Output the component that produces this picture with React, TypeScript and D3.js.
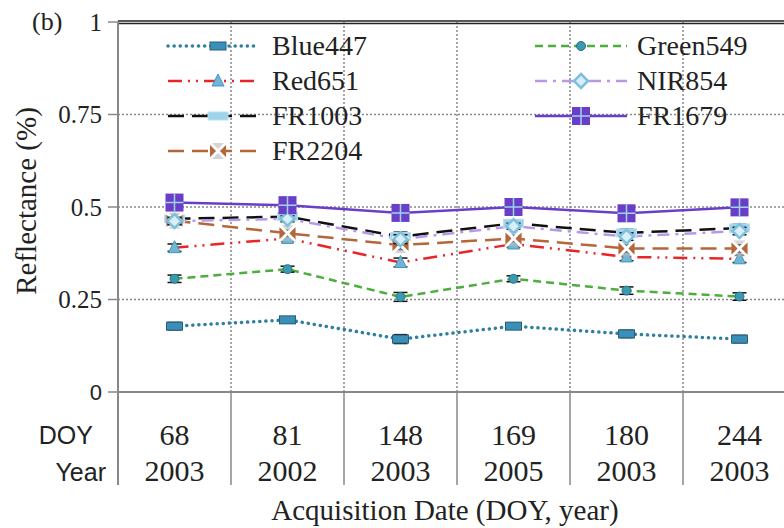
import React from "react";
import * as d3 from "d3";

const doys = ["68", "81", "148", "169", "180", "244"];
const years = ["2003", "2002", "2003", "2005", "2003", "2003"];
const yTicks = [0, 0.25, 0.5, 0.75, 1];

const blue447 = [0.178, 0.195, 0.143, 0.178, 0.157, 0.143];
const green549 = [0.306, 0.332, 0.257, 0.306, 0.274, 0.258];
const red651 = [0.39, 0.415, 0.35, 0.4, 0.365, 0.36];
const nir854 = [0.462, 0.468, 0.413, 0.448, 0.42, 0.435];
const fr1003 = [0.468, 0.474, 0.42, 0.456, 0.43, 0.443];
const fr1679 = [0.512, 0.505, 0.484, 0.5, 0.483, 0.499];
const fr2204 = [0.463, 0.429, 0.397, 0.415, 0.388, 0.388];
const errs = [0.01, 0.008, 0.012, 0.008, 0.01, 0.01];

type S = { name: string; values: number[]; color: string; dash: string; width: number; marker: string };

const series: S[] = [
  { name: "Blue447", values: blue447, color: "#2f7f9f", dash: "0.1,6", width: 3.5, marker: "bar" },
  { name: "Red651", values: red651, color: "#e8262a", dash: "14,6,2,6,2,6", width: 2.5, marker: "tri" },
  { name: "FR1003", values: fr1003, color: "#111111", dash: "16,8", width: 2.5, marker: "lbar" },
  { name: "FR2204", values: fr2204, color: "#b5673a", dash: "16,8", width: 2.5, marker: "xbox" },
  { name: "Green549", values: green549, color: "#4cae3c", dash: "8,5", width: 2.5, marker: "circle" },
  { name: "NIR854", values: nir854, color: "#b69ae8", dash: "12,6,3,6", width: 2.5, marker: "diamond" },
  { name: "FR1679", values: fr1679, color: "#6a3fc8", dash: "", width: 2.5, marker: "sq" },
];

const left = 118;
const bandW = 113;
const top = 22;
const bottom = 392;

const SERIF = '"Liberation Serif", Tinos, "Nimbus Roman", "Nimbus Roman No9 L", FreeSerif, "Noto Serif", "DejaVu Serif", "Times New Roman", Times, serif';
const SANS = '"Liberation Sans", Arial, Helvetica, sans-serif';

function Marker({ type, x, y }: { type: string; x: number; y: number }) {
  const lb = "#9fd3ea";
  switch (type) {
    case "bar":
      return <rect x={x - 8} y={y - 4} width={16} height={8} fill="#3a8fb8" stroke="#2a5f7a" strokeWidth={1} />;
    case "tri":
      return <path d={`M${x},${y - 7} L${x + 6},${y + 5} L${x - 6},${y + 5} Z`} fill="#6fb6d6" stroke="#4a95b8" strokeWidth={1} />;
    case "lbar":
      return <rect x={x - 10} y={y - 4} width={20} height={8} fill={lb} stroke="#b8e0f0" strokeWidth={1} />;
    case "xbox":
      return (
        <g>
          <rect x={x - 8} y={y - 8} width={16} height={16} fill="#b8b8b8" fillOpacity={0.6} />
          <path d={`M${x - 8},${y - 8} L${x + 8},${y + 8} M${x + 8},${y - 8} L${x - 8},${y + 8}`} stroke="#ffffff" strokeWidth={3} />
          <path d={`M${x - 8},${y - 6} L${x - 2},${y} L${x - 8},${y + 6} Z M${x + 8},${y - 6} L${x + 2},${y} L${x + 8},${y + 6} Z`} fill="#b5673a" />
        </g>
      );
    case "circle":
      return <circle cx={x} cy={y} r={4.5} fill="#3a9ab0" stroke="#2a7080" strokeWidth={1} />;
    case "diamond":
      return <path d={`M${x},${y - 7} L${x + 7},${y} L${x},${y + 7} L${x - 7},${y} Z`} fill="#d8eef8" stroke="#7cc0dc" strokeWidth={2.5} />;
    case "sq":
      return (
        <g>
          <rect x={x - 9} y={y - 9} width={18} height={18} fill="#6a3fc8" />
          <path d={`M${x},${y - 9} L${x},${y + 9} M${x - 9},${y} L${x + 9},${y}`} stroke="#9fd3ea" strokeWidth={1.5} />
        </g>
      );
  }
  return null;
}

export default function App() {
  const x = d3.scaleBand<number>().domain(doys.map((_, i) => i)).range([left, left + bandW * doys.length]).padding(0);
  const y = d3.scaleLinear().domain([0, 1]).range([bottom, top]);
  const cx = (i: number) => (x(i) as number) + x.bandwidth() / 2;
  const legendLeft = series.slice(0, 4);
  const legendRight = series.slice(4);
  const gridX = doys.slice(1).map((_, i) => x(i + 1) as number);
  const serif = { fontFamily: SERIF };
  const sans = { fontFamily: SANS };

  return (
    <svg width={784} height={528} style={{ position: "absolute", left: 0, top: 0, background: "#fff" }}>
      {yTicks.filter((t) => t > 0 && t < 1).map((t) => (
        <line key={"gy" + t} x1={left} x2={784} y1={y(t)} y2={y(t)} stroke="#888" strokeWidth={1.5} strokeDasharray="2,2" />
      ))}
      {gridX.map((gx, i) => (
        <line key={"gx" + i} x1={gx} x2={gx} y1={top} y2={bottom} stroke="#888" strokeWidth={1.5} strokeDasharray="2,2" />
      ))}
      <line x1={left} x2={784} y1={top - 1} y2={top - 1} stroke="#222" strokeWidth={1.5} />
      <line x1={left} x2={784} y1={top + 1.5} y2={top + 1.5} stroke="#222" strokeWidth={1.5} />
      <line x1={left} x2={784} y1={bottom} y2={bottom} stroke="#888" strokeWidth={2} />
      <line x1={left} x2={left} y1={top} y2={485} stroke="#888" strokeWidth={2} />
      {gridX.map((gx, i) => (
        <line key={"sep" + i} x1={gx} x2={gx} y1={bottom} y2={485} stroke="#888" strokeWidth={1.5} />
      ))}
      {yTicks.map((t) => (
        <g key={"yt" + t}>
          <line x1={108} x2={left} y1={y(t)} y2={y(t)} stroke="#888" strokeWidth={1.5} />
          <text x={102} y={y(t)} dy="0.35em" textAnchor="end" style={t === 0 ? sans : serif} fontSize={t === 0 ? 22 : 25} fill="#222">
            {t === 0 ? "0" : String(t)}
          </text>
        </g>
      ))}
      <text x={32} y={30} style={serif} fontSize={26} fill="#222">(b)</text>
      <text transform={`translate(36,${201}) rotate(-90)`} textAnchor="middle" style={serif} fontSize={29} fill="#222">
        Reflectance (%)
      </text>
      {series.map((s) => {
        const line = d3.line<number>().x((_, i) => cx(i)).y((v) => y(v));
        return (
          <path key={s.name} d={line(s.values) || ""} fill="none" stroke={s.color} strokeWidth={s.width}
            strokeDasharray={s.dash || undefined} strokeLinecap={s.marker === "bar" ? "round" : "butt"} />
        );
      })}
      {series.map((s) =>
        s.values.map((v, i) => (
          <g key={s.name + i}>
            <line x1={cx(i)} x2={cx(i)} y1={y(v + errs[i])} y2={y(v - errs[i])} stroke="#111" strokeWidth={1.5} />
            <line x1={cx(i) - 7} x2={cx(i) + 7} y1={y(v + errs[i])} y2={y(v + errs[i])} stroke="#111" strokeWidth={1.5} />
            <line x1={cx(i) - 7} x2={cx(i) + 7} y1={y(v - errs[i])} y2={y(v - errs[i])} stroke="#111" strokeWidth={1.5} />
            <Marker type={s.marker} x={cx(i)} y={y(v)} />
          </g>
        ))
      )}
      {legendLeft.map((s, i) => {
        const ly = 46 + i * 35;
        return (
          <g key={"ll" + s.name}>
            <line x1={168} x2={257} y1={ly} y2={ly} stroke={s.color} strokeWidth={s.width} strokeDasharray={s.dash || undefined}
              strokeLinecap={s.marker === "bar" ? "round" : "butt"} />
            <Marker type={s.marker} x={218} y={ly} />
            <text x={272} y={ly} dy="0.33em" style={serif} fontSize={28} fill="#222">{s.name}</text>
          </g>
        );
      })}
      {legendRight.map((s, i) => {
        const ly = 46 + i * 35;
        return (
          <g key={"lr" + s.name}>
            <line x1={535} x2={627} y1={ly} y2={ly} stroke={s.color} strokeWidth={s.width} strokeDasharray={s.dash || undefined} />
            <Marker type={s.marker} x={581} y={ly} />
            <text x={637} y={ly} dy="0.33em" style={serif} fontSize={28} fill="#222">{s.name}</text>
          </g>
        );
      })}
      <text x={93} y={435} dy="0.35em" textAnchor="end" style={sans} fontSize={25} fill="#222">DOY</text>
      <text x={106} y={472} dy="0.35em" textAnchor="end" style={sans} fontSize={25} fill="#222">Year</text>
      {doys.map((d, i) => (
        <g key={"c" + i}>
          <text x={cx(i)} y={434} dy="0.35em" textAnchor="middle" style={serif} fontSize={30} fill="#222">{d}</text>
          <text x={cx(i)} y={470} dy="0.35em" textAnchor="middle" style={serif} fontSize={30} fill="#222">{years[i]}</text>
        </g>
      ))}
      <text x={445} y={520} textAnchor="middle" style={serif} fontSize={29} fill="#222">Acquisition Date (DOY, year)</text>
    </svg>
  );
}
